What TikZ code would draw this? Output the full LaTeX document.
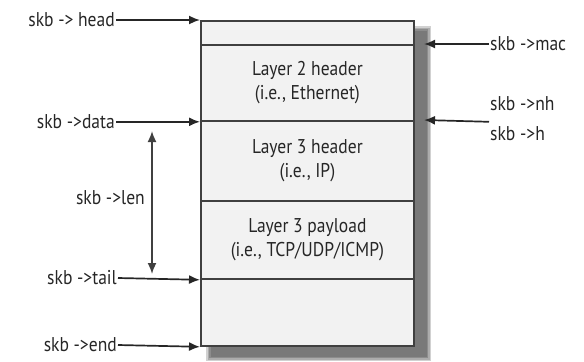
\documentclass[tikz,border=0pt]{standalone}
\usepackage{fontspec}
\setmainfont{PT Sans}[FakeStretch=0.88]
\usetikzlibrary{arrows.meta}
\definecolor{boxfill}{HTML}{F2F2F2}
\definecolor{edge}{HTML}{404040}
\tikzset{
  lbl/.style={font=\fontsize{20}{22}\selectfont, text=black!85, inner sep=1bp},
  layer/.style={draw=edge, line width=1.8bp, fill=boxfill, minimum width=213bp, inner sep=0pt, anchor=north west, align=center, font=\fontsize{20}{24}\selectfont, text=black!85},
  ptr/.style={line width=1.7bp, draw=black!85, -{Latex[length=11bp,width=9bp]}},
  dbl/.style={line width=1.7bp, draw=black!75, {Latex[length=11bp,width=9bp]}-{Latex[length=11bp,width=9bp]}}
}
\begin{document}
\begin{tikzpicture}[x=1bp,y=-1bp]
\useasboundingbox (0,0) rectangle (584,361);
% shadow
\foreach \o/\op in {0/0.3,1.5/0.35,3/0.45,4.5/0.5} {
  \fill[black!60, opacity=\op] (206+\o,26+\o) rectangle (431-\o,361-\o);
}
% layers
\node[layer, minimum height=24bp] (hr) at (200,20) {};
\node[layer, minimum height=76bp] (l2) at (200,44) {Layer 2 header\\(i.e., Ethernet)};
\node[layer, minimum height=80bp] (l3) at (200,120) {Layer 3 header\\(i.e., IP)};
\node[layer, minimum height=78bp] (pl) at (200,200) {Layer 3 payload\\(i.e., TCP/UDP/ICMP)};
\node[layer, minimum height=67bp] (tr) at (200,278) {};
% left labels
\node[lbl, anchor=east] (head) at (116,20) {skb -> head};
\node[lbl, anchor=east] (data) at (116,122) {skb ->data};
\node[lbl, anchor=east] (len) at (146,198) {skb ->len};
\node[lbl, anchor=east] (tail) at (118,278) {skb ->tail};
\node[lbl, anchor=east] (end) at (118,345) {skb ->end};
\draw[ptr] (head.east) -- (hr.north west);
\draw[ptr] (data.east |- l2.south west) -- (l2.south west);
\draw[ptr] (tail.east) -- (pl.south west);
\draw[ptr] (end.east) -- (tr.south west);
\coordinate (lt) at (152,131);
\coordinate (lb) at (152,274);
\draw[dbl] (lt) -- (lb);
% right labels
\node[lbl, anchor=west] (mac) at (489,44) {skb ->mac};
\node[lbl, anchor=west] (nh) at (489,104) {skb ->nh};
\node[lbl, anchor=west] (hh) at (489,134) {skb ->h};
\coordinate (macend) at (424,44);
\coordinate (nhend) at (424,120);
\draw[ptr] (mac.west) -- (macend);
\draw[ptr] (nh.west |- l2.south east) -- (nhend);
\end{tikzpicture}
\end{document}
